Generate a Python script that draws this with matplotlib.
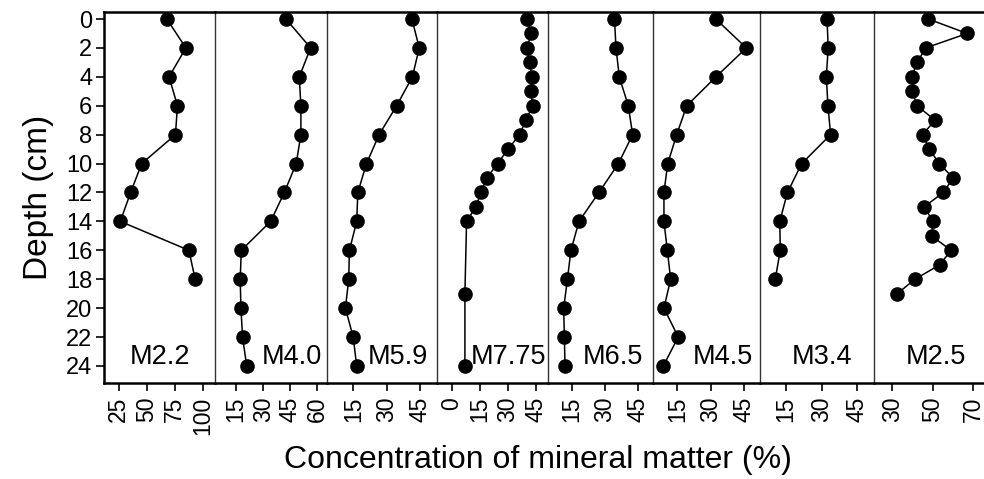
import numpy as np
import matplotlib.pyplot as plt

# Depth profiles of mineral matter concentration (%) for the 8 cores
cores = ['M2.2', 'M4.0', 'M5.9', 'M7.75', 'M6.5', 'M4.5', 'M3.4', 'M2.5']

depth_2cm_18 = [0, 2, 4, 6, 8, 10, 12, 14, 16, 18]
depth_2cm_24 = [0, 2, 4, 6, 8, 10, 12, 14, 16, 18, 20, 22, 24]
depth_m775 = [0, 1, 2, 3, 4, 5, 6, 7, 8, 9, 10, 11, 12, 13, 14, 19, 24]
depth_m25 = [0, 1, 2, 3, 4, 5, 6, 7, 8, 9, 10, 11, 12, 13, 14, 15, 16, 17, 18, 19]

m22 = [68, 85, 70, 77.5, 75.7, 45.6, 35.7, 26.5, 87.7, 93.3]
m40 = [42.6, 56.3, 50, 50.9, 50.9, 48.3, 41.7, 34.1, 17.8, 17.2, 17.6, 18.5, 20.8]
m59 = [41.4, 44.7, 41.6, 34.5, 26.6, 20.9, 17, 16.5, 13.2, 12.9, 11.4, 14.9, 16.5]
m775 = [40.2, 42.7, 40.3, 41.9, 42.9, 42.3, 43.5, 39.8, 36.4, 30.2, 24.6,
        18.7, 15.7, 12.9, 7.9, 7, 7]
m65 = [34.4, 35.1, 36.6, 40.7, 42.7, 36.2, 27.3, 18.2, 14.5, 12.9, 11.2, 11.5, 11.8]
m45 = [32.2, 45.9, 32.3, 19.2, 14.7, 10.7, 9, 9, 10.5, 12, 9, 15.4, 8.7]
m34 = [32.3, 32.8, 32, 32.7, 33.8, 21.7, 15.7, 12.5, 12.7, 10.6]
m25 = [47.8, 67, 46.5, 42.3, 39.6, 39.9, 42.3, 51.1, 45, 48.3, 53.2, 60.1,
       55.2, 45.7, 50.2, 49.4, 59, 53.5, 41.2, 32.5]

depths = [depth_2cm_18, depth_2cm_24, depth_2cm_24, depth_m775,
          depth_2cm_24, depth_2cm_24, depth_2cm_18, depth_m25]
values = [m22, m40, m59, m775, m65, m45, m34, m25]

xticks = [[25, 50, 75, 100], [15, 30, 45, 60], [15, 30, 45], [0, 15, 30, 45],
          [15, 30, 45], [15, 30, 45], [15, 30, 45], [30, 50, 70]]
xlims = [(11.5, 111), (3.2, 65.4), (3.1, 52.7), (-8, 51.4),
         (3.8, 52), (4.1, 52), (4.2, 52), (21, 75.3)]
depth_ticks = list(range(0, 25, 2))

# panel edges in pixels (figure is 984 x 479)
edges = [103.5, 215, 327, 437, 547.5, 653, 760, 874, 984]
label_pos = [0.507, 0.6875, 0.64, 0.65, 0.616, 0.654, 0.544, 0.56]

W, H = 984, 479
top_px, bot_px = 11.5, 383


def main():
    plt.rcParams['font.family'] = ['Liberation Sans', 'DejaVu Sans']
    fig = plt.figure(figsize=(W / 100, H / 100), dpi=100)

    for i, name in enumerate(cores):
        x0 = edges[i] / W
        w = (edges[i + 1] - edges[i]) / W
        ax = fig.add_axes([x0, 1 - bot_px / H, w, (bot_px - top_px) / H])
        ax.plot(values[i], depths[i], color='black', linewidth=1.1,
                marker='o', markersize=9.5, markerfacecolor='black',
                markeredgecolor='black', zorder=3, clip_on=False)
        ax.set_xlim(*xlims[i])
        ax.set_ylim(25.18, -0.52)
        ax.set_xticks(xticks[i])
        ax.tick_params(axis='x', direction='out', length=6, width=1.2,
                       labelsize=16.5, labelrotation=90, pad=4)
        ax.spines['right'].set_visible(False)
        ax.spines['top'].set_linewidth(1.8)
        ax.spines['bottom'].set_linewidth(1.8)
        if i == 0:
            ax.spines['left'].set_linewidth(1.8)
            ax.set_yticks(depth_ticks)
            ax.tick_params(axis='y', direction='out', length=6, width=1.2,
                           labelsize=17, pad=2)
            ax.set_ylabel('Depth (cm)', fontsize=24, labelpad=9)
        else:
            ax.spines['left'].set_linewidth(1.0)
            ax.spines['left'].set_color('#333333')
            ax.set_yticks([])
        ax.text(label_pos[i], 0.07, name, transform=ax.transAxes,
                ha='center', va='center', fontsize=19.5)

    fig.text(0.547, 0.04, 'Concentration of mineral matter (%)',
             ha='center', va='center', fontsize=23)

    fig.savefig('out.png', dpi=100)


if __name__ == "__main__":
    main()
